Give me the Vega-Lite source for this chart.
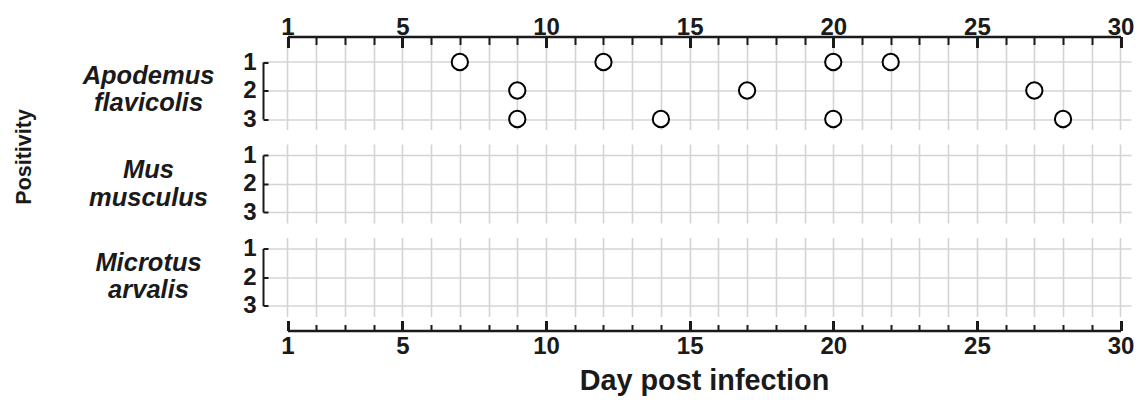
{
  "$schema": "https://vega.github.io/schema/vega-lite/v6.json",
  "padding": {"left": 13, "top": 12.5, "right": 5, "bottom": 5},
  "background": "white",
  "config": {
    "view": {"stroke": null},
    "font": "Liberation Sans",
    "axis": {"labelFont": "Liberation Sans", "titleFont": "Liberation Sans", "labelColor": "#1a1a1a", "titleColor": "#1a1a1a", "labelOverlap": false, "labelBound": false, "labelFlush": false},
    "title": {"font": "Liberation Sans"}
  },
  "title": {"text": "Positivity", "orient": "left", "anchor": "middle", "fontSize": 21.5, "fontWeight": "bold", "color": "#1a1a1a", "offset": 47, "dx": 47},
  "data": {"values": [
    {"species": "Apodemus flavicolis", "day": 7, "positivity": 1},
    {"species": "Apodemus flavicolis", "day": 12, "positivity": 1},
    {"species": "Apodemus flavicolis", "day": 20, "positivity": 1},
    {"species": "Apodemus flavicolis", "day": 22, "positivity": 1},
    {"species": "Apodemus flavicolis", "day": 9, "positivity": 2},
    {"species": "Apodemus flavicolis", "day": 17, "positivity": 2},
    {"species": "Apodemus flavicolis", "day": 27, "positivity": 2},
    {"species": "Apodemus flavicolis", "day": 9, "positivity": 3},
    {"species": "Apodemus flavicolis", "day": 14, "positivity": 3},
    {"species": "Apodemus flavicolis", "day": 20, "positivity": 3},
    {"species": "Apodemus flavicolis", "day": 28, "positivity": 3}
  ]},
  "bounds": "flush",
  "spacing": 14.5,
  "vconcat": [
    {
      "width": 868, "height": 93,
      "transform": [{"filter": "datum.species == 'Apodemus flavicolis'"}],
      "layer": [
        {
          "mark": {"type": "circle", "opacity": 0},
          "encoding": {
            "x": {"field": "day", "type": "quantitative", "scale": {"domain": [0.1471, 30.366], "nice": false, "zero": false},
              "axis": {"orient": "bottom", "title": null, "values": [1,2,3,4,5,6,7,8,9,10,11,12,13,14,15,16,17,18,19,20,21,22,23,24,25,26,27,28,29,30], "labels": false, "ticks": false, "domain": false, "grid": true, "gridColor": "#d4d4d4", "gridWidth": 1.6}},
            "y": {"field": "positivity", "type": "quantitative", "scale": {"domain": [0.1053, 3.3684], "reverse": true, "nice": false, "zero": false},
              "axis": {"orient": "right", "title": null, "values": [1, 2, 3], "labels": false, "ticks": false, "domain": false, "grid": true, "gridColor": "#d4d4d4", "gridWidth": 1.6}}
          }
        },
        {
          "mark": {"type": "circle", "fill": "white", "stroke": "black", "strokeWidth": 2, "size": 265, "opacity": 1},
          "encoding": {
            "x": {"field": "day", "type": "quantitative",
              "scale": {"domain": [1, 30], "range": [24.5, 857.5], "nice": false, "zero": false},
              "axis": {"orient": "top", "title": null, "values": [1,2,3,4,5,6,7,8,9,10,11,12,13,14,15,16,17,18,19,20,21,22,23,24,25,26,27,28,29,30],
                "labelExpr": "datum.value == 1 || datum.value % 5 == 0 ? datum.label : ''",
                "labelFontSize": 24, "labelFontWeight": "bold", "labelPadding": 8, "labelOverlap": false,
                "domain": true, "domainColor": "#1a1a1a", "domainWidth": 2.5,
                "tickColor": "#1a1a1a",
                "tickWidth": {"condition": {"test": "datum.value == 1 || datum.value % 5 == 0", "value": 3}, "value": 2},
                "tickSize": {"condition": {"test": "datum.value == 1 || datum.value % 5 == 0", "value": -11}, "value": -8},
                "grid": false}},
            "y": {"field": "positivity", "type": "ordinal",
              "scale": {"type": "point", "domain": [1, 2, 3], "range": [25.5, 82.5], "padding": 0},
              "axis": {"orient": "left", "title": ["Apodemus", "flavicolis"],
                "titleAngle": 0, "titleX": -115, "titleY": 47, "titleAlign": "center", "titleBaseline": "alphabetic",
                "titleFontSize": 25.5, "titleFontWeight": "bold", "titleFontStyle": "italic", "titleLineHeight": 27,
                "labelFontSize": 24, "labelFontWeight": "bold", "labelPadding": 12, "labelOverlap": false, "labelAngle": 0,
                "domainColor": "#1a1a1a", "domainWidth": 2, "tickColor": "#1a1a1a", "tickWidth": 2, "tickSize": -5,
                "grid": false}}
          }
        }
      ],
      "resolve": {"scale": {"x": "independent", "y": "independent"}}
    },
    {
      "width": 868, "height": 79,
      "transform": [{"filter": "datum.species == 'Mus musculus'"}],
      "layer": [
        {
          "mark": {"type": "circle", "opacity": 0},
          "encoding": {
            "x": {"field": "day", "type": "quantitative", "scale": {"domain": [0.1471, 30.366], "nice": false, "zero": false},
              "axis": {"orient": "bottom", "title": null, "values": [1,2,3,4,5,6,7,8,9,10,11,12,13,14,15,16,17,18,19,20,21,22,23,24,25,26,27,28,29,30], "labels": false, "ticks": false, "domain": false, "grid": true, "gridColor": "#d4d4d4", "gridWidth": 1.6}},
            "y": {"field": "positivity", "type": "quantitative", "scale": {"domain": [0.614, 3.386], "reverse": true, "nice": false, "zero": false},
              "axis": {"orient": "right", "title": null, "values": [1, 2, 3], "labels": false, "ticks": false, "domain": false, "grid": true, "gridColor": "#d4d4d4", "gridWidth": 1.6}}
          }
        },
        {
          "mark": {"type": "circle", "fill": "white", "stroke": "black", "strokeWidth": 2, "size": 265, "opacity": 1},
          "encoding": {
            "x": {"field": "day", "type": "quantitative",
              "scale": {"domain": [1, 30], "range": [24.5, 857.5], "nice": false, "zero": false},
              "axis": null},
            "y": {"field": "positivity", "type": "ordinal",
              "scale": {"type": "point", "domain": [1, 2, 3], "range": [11, 68], "padding": 0},
              "axis": {"orient": "left", "title": ["Mus", "musculus"],
                "titleAngle": 0, "titleX": -115, "titleY": 33.5, "titleAlign": "center", "titleBaseline": "alphabetic",
                "titleFontSize": 25.5, "titleFontWeight": "bold", "titleFontStyle": "italic", "titleLineHeight": 27.5,
                "labelFontSize": 24, "labelFontWeight": "bold", "labelPadding": 12, "labelOverlap": false, "labelAngle": 0,
                "domainColor": "#1a1a1a", "domainWidth": 2, "tickColor": "#1a1a1a", "tickWidth": 2, "tickSize": -5,
                "grid": false}}
          }
        }
      ],
      "resolve": {"scale": {"x": "independent", "y": "independent"}}
    },
    {
      "width": 868, "height": 79,
      "transform": [{"filter": "datum.species == 'Microtus arvalis'"}],
      "layer": [
        {
          "mark": {"type": "circle", "opacity": 0},
          "encoding": {
            "x": {"field": "day", "type": "quantitative", "scale": {"domain": [0.1471, 30.366], "nice": false, "zero": false},
              "axis": {"orient": "top", "title": null, "values": [1,2,3,4,5,6,7,8,9,10,11,12,13,14,15,16,17,18,19,20,21,22,23,24,25,26,27,28,29,30], "labels": false, "ticks": false, "domain": false, "grid": true, "gridColor": "#d4d4d4", "gridWidth": 1.6}},
            "y": {"field": "positivity", "type": "quantitative", "scale": {"domain": [0.614, 3.386], "reverse": true, "nice": false, "zero": false},
              "axis": {"orient": "right", "title": null, "values": [1, 2, 3], "labels": false, "ticks": false, "domain": false, "grid": true, "gridColor": "#d4d4d4", "gridWidth": 1.6}}
          }
        },
        {
          "mark": {"type": "circle", "fill": "white", "stroke": "black", "strokeWidth": 2, "size": 265, "opacity": 1},
          "encoding": {
            "x": {"field": "day", "type": "quantitative",
              "scale": {"domain": [1, 30], "range": [24.5, 857.5], "nice": false, "zero": false},
              "axis": {"orient": "bottom", "title": "Day post infection", "values": [1,2,3,4,5,6,7,8,9,10,11,12,13,14,15,16,17,18,19,20,21,22,23,24,25,26,27,28,29,30],
                "labelExpr": "datum.value == 1 || datum.value % 5 == 0 ? datum.label : ''",
                "labelFontSize": 24, "labelFontWeight": "bold", "labelPadding": 14, "labelOverlap": false,
                "titleFontSize": 28.8, "titleFontWeight": "bold", "titlePadding": 4,
                "offset": 14,
                "domain": true, "domainColor": "#1a1a1a", "domainWidth": 2.5,
                "tickColor": "#1a1a1a",
                "tickWidth": {"condition": {"test": "datum.value == 1 || datum.value % 5 == 0", "value": 3}, "value": 2},
                "tickSize": {"condition": {"test": "datum.value == 1 || datum.value % 5 == 0", "value": -10}, "value": -6},
                "grid": false}},
            "y": {"field": "positivity", "type": "ordinal",
              "scale": {"type": "point", "domain": [1, 2, 3], "range": [11, 68], "padding": 0},
              "axis": {"orient": "left", "title": ["Microtus", "arvalis"],
                "titleAngle": 0, "titleX": -115, "titleY": 32.5, "titleAlign": "center", "titleBaseline": "alphabetic",
                "titleFontSize": 25.5, "titleFontWeight": "bold", "titleFontStyle": "italic", "titleLineHeight": 27,
                "labelFontSize": 24, "labelFontWeight": "bold", "labelPadding": 12, "labelOverlap": false, "labelAngle": 0,
                "domainColor": "#1a1a1a", "domainWidth": 2, "tickColor": "#1a1a1a", "tickWidth": 2, "tickSize": -5,
                "grid": false}}
          }
        }
      ],
      "resolve": {"scale": {"x": "independent", "y": "independent"}}
    }
  ]
}
